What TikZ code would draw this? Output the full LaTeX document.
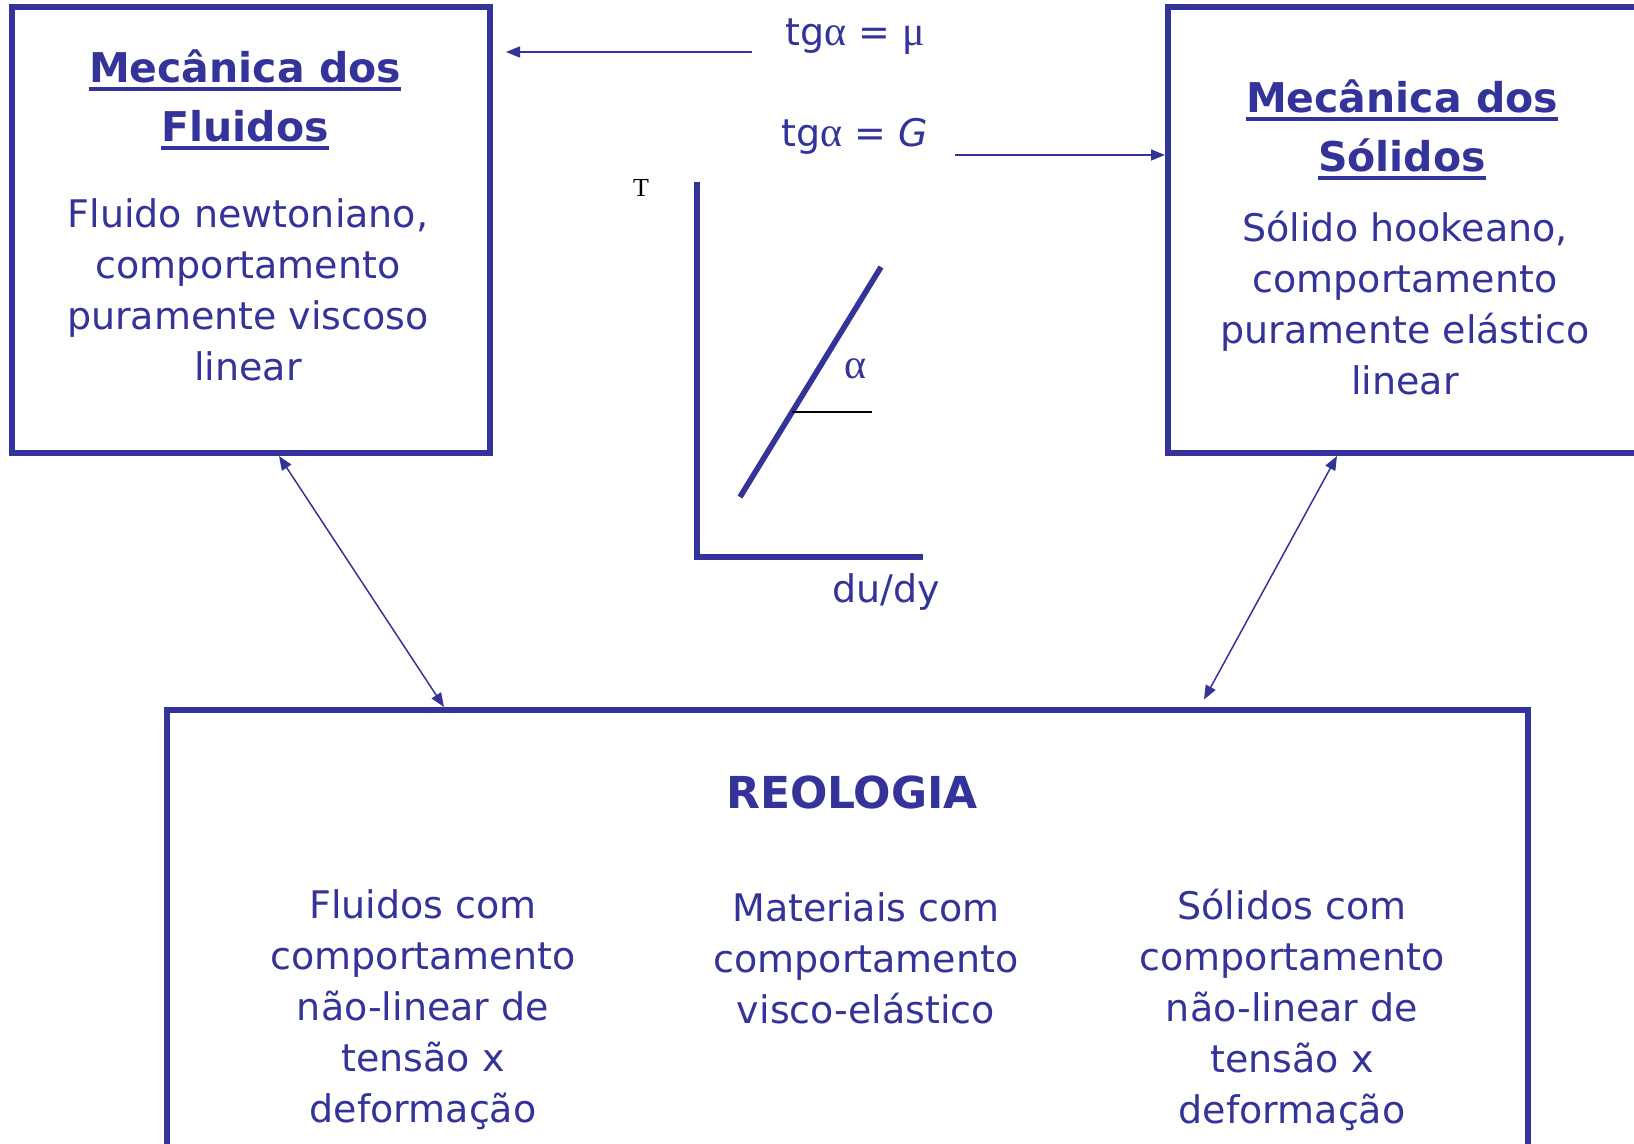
\documentclass[tikz,border=0pt]{standalone}
\usepackage{fontspec}
\setmainfont{DejaVu Sans}
\newfontfamily\timesfont{Liberation Serif}
\usetikzlibrary{arrows.meta}
\definecolor{reoblue}{RGB}{51,51,153}
\newcommand{\titleul}[1]{\setbox0\hbox{#1}\rlap{\rule[-4pt]{\wd0}{2pt}}\box0}
\newcommand{\gr}[1]{{\timesfont\fontsize{21}{21}\selectfont #1}}
\tikzset{
  frame/.style={draw=reoblue,line width=3pt,inner sep=0pt},
  body/.style={text=reoblue,align=center,inner sep=0pt,font=\fontsize{19}{25.5}\selectfont},
  title/.style={body,font=\fontsize{20.5}{29.5}\selectfont\bfseries},
  link/.style={draw=reoblue,line width=0.75pt,>={Triangle[length=7pt,width=5.5pt]}},
  axis/.style={draw=reoblue,line width=2.8pt}
}
\begin{document}
\begin{tikzpicture}[x=0.5pt,y=-0.5pt]
  \clip (0,0) rectangle (1634,1144);
  \node[frame,minimum width=239pt,minimum height=223pt] (fluidos) at (251,230) {};
  \node[frame,minimum width=241pt,minimum height=223pt] (solidos) at (1409,230) {};
  \node[frame,minimum width=680.5pt,minimum height=220pt] (reologia) at (847.5,930) {};

  \node[title,anchor=base] (tfluidos) at (245,142) {\titleul{Mecânica dos}\\\titleul{Fluidos}};
  \node[body,anchor=base] (bfluidos) at (248,381) {Fluido newtoniano,\\comportamento\\puramente viscoso\\linear};
  \node[title,anchor=base] (tsolidos) at (1402,172) {\titleul{Mecânica dos}\\\titleul{Sólidos}};
  \node[body,anchor=base] (bsolidos) at (1405,395) {Sólido hookeano,\\comportamento\\puramente elástico\\linear};

  \node[title,anchor=base,font=\fontsize{22}{22}\selectfont\bfseries] (treo) at (852,808) {REOLOGIA};
  \node[body,anchor=base] (cfluidos) at (423,1122) {Fluidos com\\comportamento\\não-linear de\\tensão x\\deformação};
  \node[body,anchor=base] (cmat) at (866,1023) {Materiais com\\comportamento\\visco-elástico};
  \node[body,anchor=base] (csolidos) at (1292,1123) {Sólidos com\\comportamento\\não-linear de\\tensão x\\deformação};

  \node[body] (mu) at (855,37) {tg\gr{α} = \gr{μ}};
  \node[body] (gmod) at (855,136) {tg\gr{α} = \textit{G}};
  \coordinate (mustart) at (752,52);
  \coordinate (gstart) at (955,155);
  \draw[link,->] (mustart) -- ([xshift=6.5pt]mustart -| fluidos.east);
  \draw[link,->] (gstart) -- (gstart -| solidos.west);

  \node[font=\timesfont\fontsize{13}{13}\selectfont] (tau) at (641,188) {T};
  \node[body] (dudy) at (886,592) {du/dy};
  \node[body] (alpha) at (855,369) {\gr{α}};
  \draw[axis] (697,182) -- (697,557) -- (923,557);
  \draw[axis] (740,497) -- (881,267);
  \draw[black,line width=0.8pt] (792,412) -- (872,412);

  \draw[link,<->] ([xshift=135pt]fluidos.south west) -- ([xshift=140pt]reologia.north west);
  \draw[link,<->] ([xshift=86pt]solidos.south west) -- ([xshift=520pt,yshift=3.75pt]reologia.north west);
\end{tikzpicture}
\end{document}
